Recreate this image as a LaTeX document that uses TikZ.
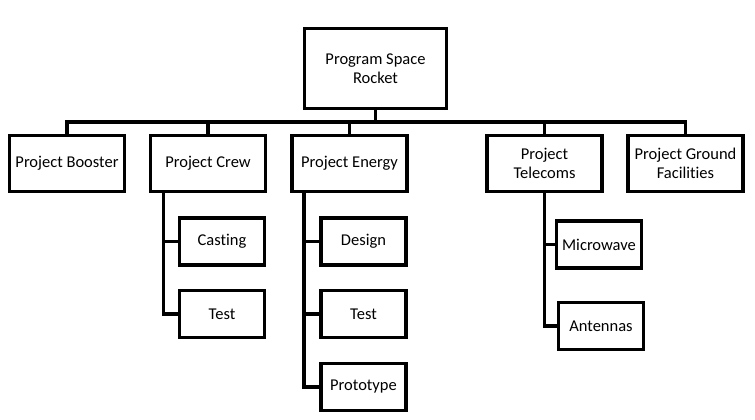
\documentclass[tikz,border=0pt]{standalone}
\usepackage{fontspec}
\setmainfont[Ligatures={NoCommon}]{Carlito}
\usetikzlibrary{backgrounds}

\begin{document}
\begin{tikzpicture}[x=1pt, y=-1pt, line join=miter,
	unit/.style={draw=black, line width=3.2pt, fill=white, align=center, inner sep=1pt, outer sep=0pt,
		font=\fontsize{16.5}{19.5}\selectfont},
	head/.style={unit, minimum width=142pt, minimum height=80pt},
	project/.style={unit, minimum width=115pt, minimum height=56pt},
	task/.style={unit, minimum width=85pt, minimum height=47pt},
	link/.style={draw=black, line width=3.6pt}]
	\useasboundingbox (0,0) rectangle (755,420);
	% program and projects
	\node[head] (program) at (375.5,68.5) {Program Space\\Rocket};
	\node[project] (booster) at (67,163.5) {Project Booster};
	\node[project] (crew) at (208,163.5) {Project Crew};
	\node[project] (energy) at (349.5,163.5) {Project Energy};
	\node[project] (telecoms) at (544.5,163.5) {Project\\Telecoms};
	\node[project] (ground) at (685.5,163.5) {Project Ground\\Facilities};
	% tasks
	\node[task] (casting) at (222,241.5) {Casting};
	\node[task] (crewtest) at (222,314) {Test};
	\node[task] (design) at (363.5,241.5) {Design};
	\node[task] (energytest) at (363.5,314) {Test};
	\node[task] (prototype) at (363.5,387) {Prototype};
	\node[task] (microwave) at (599,244.5) {Microwave};
	\node[task] (antennas) at (601,326) {Antennas};
	\coordinate (bus) at (375.5,122);
	% connectors
	\begin{scope}[on background layer]
	\foreach \p in {booster,crew,energy,telecoms,ground}
		\draw[link] (program.south) -- (program.south |- bus) -| (\p.north);
	\foreach \t in {casting,crewtest}
		\draw[link] ([xshift=13pt]crew.south west) |- (\t.west);
	\foreach \t in {design,energytest,prototype}
		\draw[link] ([xshift=12pt]energy.south west) |- (\t.west);
	\foreach \t in {microwave,antennas}
		\draw[link] (telecoms.south) |- (\t.west);
	\end{scope}
\end{tikzpicture}
\end{document}
